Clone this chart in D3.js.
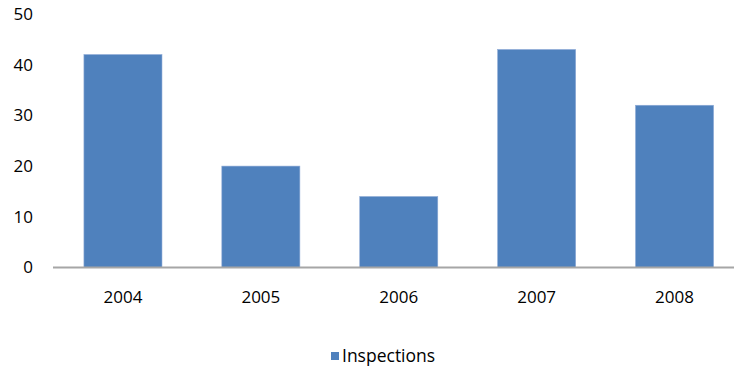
<!DOCTYPE html>
<html>
<head>
<meta charset="utf-8">
<script src="https://cdn.jsdelivr.net/npm/d3@7"></script>
<style>
  html, body { margin: 0; padding: 0; background: #fff; }
  svg { display: block; }
  text { font-family: "Open Sans", sans-serif; fill: #000; }
</style>
</head>
<body>
<svg id="chart" width="734" height="371"></svg>
<script>
const categories = ["2004", "2005", "2006", "2007", "2008"];
const inspections = [42, 20, 14, 43, 32];
const yTicks = [0, 10, 20, 30, 40, 50];
const seriesName = "Inspections";

const svg = d3.select("#chart");
const plotLeft = 54, plotRight = 743.5, plotTop = 14, plotBottom = 267.5;

const x = d3.scaleBand()
  .domain(categories)
  .range([plotLeft, plotRight])
  .paddingInner(0.434)
  .paddingOuter(0.217);

const y = d3.scaleLinear().domain([0, 50]).range([plotBottom, plotTop]);

// y tick labels
const yAxis = d3.axisLeft(y).tickValues(yTicks).tickSize(0).tickPadding(0);
const gy = svg.append("g").attr("transform", "translate(33,0)").call(yAxis);
gy.select(".domain").remove();
gy.selectAll("text").attr("font-size", "17px").attr("font-family", "Open Sans, sans-serif").attr("fill", "#000");

// bars
svg.append("g").selectAll("rect")
  .data(inspections)
  .join("rect")
  .attr("x", (d, i) => x(categories[i]))
  .attr("y", d => y(d))
  .attr("width", x.bandwidth())
  .attr("height", d => y(0) - y(d))
  .attr("fill", "#4f81bd")
  .attr("stroke", "#8eaad6")
  .attr("stroke-width", 0.6);

// x axis
const xAxis = d3.axisBottom(x).tickSize(0).tickPadding(23);
const gx = svg.append("g").attr("transform", `translate(0,${plotBottom})`).call(xAxis);
gx.select(".domain").attr("stroke", "#a6a6a6").attr("stroke-width", 2)
  .attr("d", `M${plotLeft - 1},0H${plotRight}`);
gx.selectAll("text").attr("font-size", "17px").attr("font-family", "Open Sans, sans-serif").attr("fill", "#000");

// legend
const lg = svg.append("g").attr("transform", "translate(331,352)");
lg.append("rect").attr("width", 8).attr("height", 8).attr("fill", "#4f81bd");
lg.append("text").attr("x", 11).attr("y", 4).attr("dy", "0.35em")
  .attr("font-size", "17.5px").text(seriesName);
</script>
</body>
</html>
